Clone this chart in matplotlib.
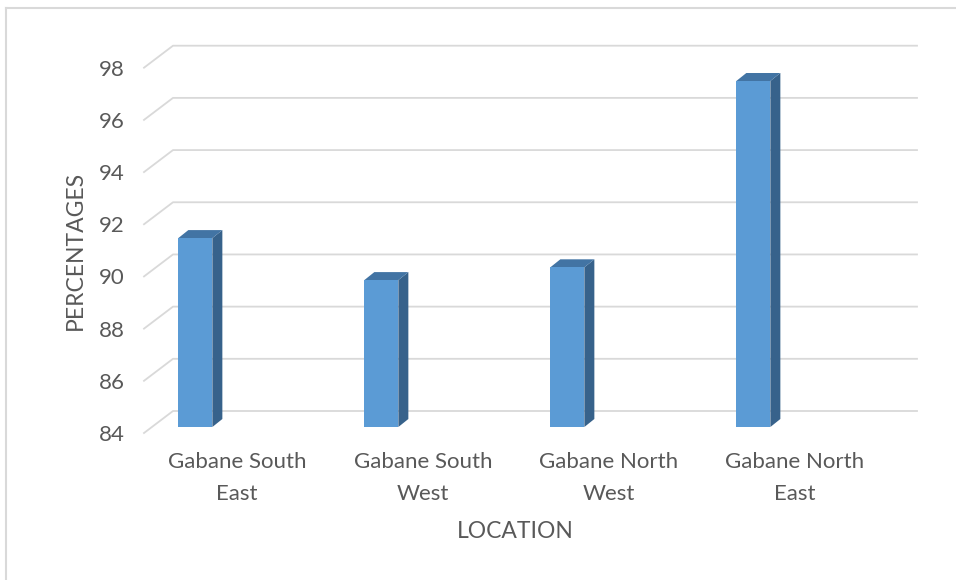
import matplotlib
matplotlib.use('Agg')
from matplotlib import pyplot as plt
from matplotlib.patches import Polygon

locations = ['Gabane South\nEast', 'Gabane South\nWest',
             'Gabane North\nWest', 'Gabane North\nEast']
percentages = [91.24, 89.63, 90.12, 97.26]
yticks = [84, 86, 88, 90, 92, 94, 96, 98]

grey = '#595959'
front = '#5B9BD5'
top_c = '#4274A4'
side_c = '#37628B'
grid_c = '#D9D9D9'

plt.rcParams['font.family'] = ['Lato', 'DejaVu Sans']

fig = plt.figure(figsize=(9.56, 5.80), dpi=100)
W, H = 956, 580
ax = fig.add_axes([144 / W, (H - 433) / H, (888 - 144) / W, (433 - 67.7) / H])
ax.set_xlim(-0.5, 3.5)
ax.set_ylim(84, 98)
for s in ax.spines.values():
    s.set_visible(False)
ax.patch.set_alpha(0)


def px(dx, dy):
    # pixel offset -> data offset
    inv = ax.transData.inverted()
    x0, y0 = inv.transform((0, 0))
    x1, y1 = inv.transform((dx, dy))
    return x1 - x0, y1 - y0


# walls: left side diagonals + back gridlines
gx, gy = px(29, 22)
for t in yticks:
    ax.plot([-0.5, -0.5 + gx, 3.5 + gx], [t, t + gy, t + gy],
            color=grid_c, lw=1.3, clip_on=False, zorder=1)

# bars with fake depth
ox, oy = px(8, 6)
dx, dy = px(10, 8)
w = 0.183
for i, v in enumerate(percentages):
    xl = i - 0.267 - w / 2 + ox
    xr = xl + w
    b = 84 + oy
    t = v + oy
    ax.add_patch(Polygon([(xr, b), (xr, t), (xr + dx, t + dy), (xr + dx, b + dy)],
                         closed=True, fc=side_c, ec='none', zorder=3, clip_on=False))
    ax.add_patch(Polygon([(xl, t), (xr, t), (xr + dx, t + dy), (xl + dx, t + dy)],
                         closed=True, fc=top_c, ec='none', zorder=3, clip_on=False))
    ax.add_patch(Polygon([(xl, b), (xr, b), (xr, t), (xl, t)],
                         closed=True, fc=front, ec='none', zorder=4, clip_on=False))

ax.set_yticks(yticks)
ax.set_yticklabels([str(t) for t in yticks])
ax.set_xticks(range(len(locations)))
ax.set_xticklabels(locations, linespacing=1.7)
ax.tick_params(axis='both', length=0, colors=grey, labelsize=16)
ax.tick_params(axis='y', pad=14)
ax.tick_params(axis='x', pad=14)

fig.text(75 / W, 1 - 250 / H, 'PERCENTAGES', rotation=90, ha='center', va='center',
         color=grey, fontsize=16.5)
fig.text(515 / W, 1 - 532 / H, 'LOCATION', ha='center', va='center',
         color=grey, fontsize=16.5)

# chart border (only top/left visible)
fig.add_artist(plt.Line2D([6 / W, 6 / W], [0, 1 - 8 / H], color=grid_c, lw=1.5))
fig.add_artist(plt.Line2D([6 / W, 1], [1 - 8 / H, 1 - 8 / H], color=grid_c, lw=1.5))

fig.savefig('out.png', dpi=100)
